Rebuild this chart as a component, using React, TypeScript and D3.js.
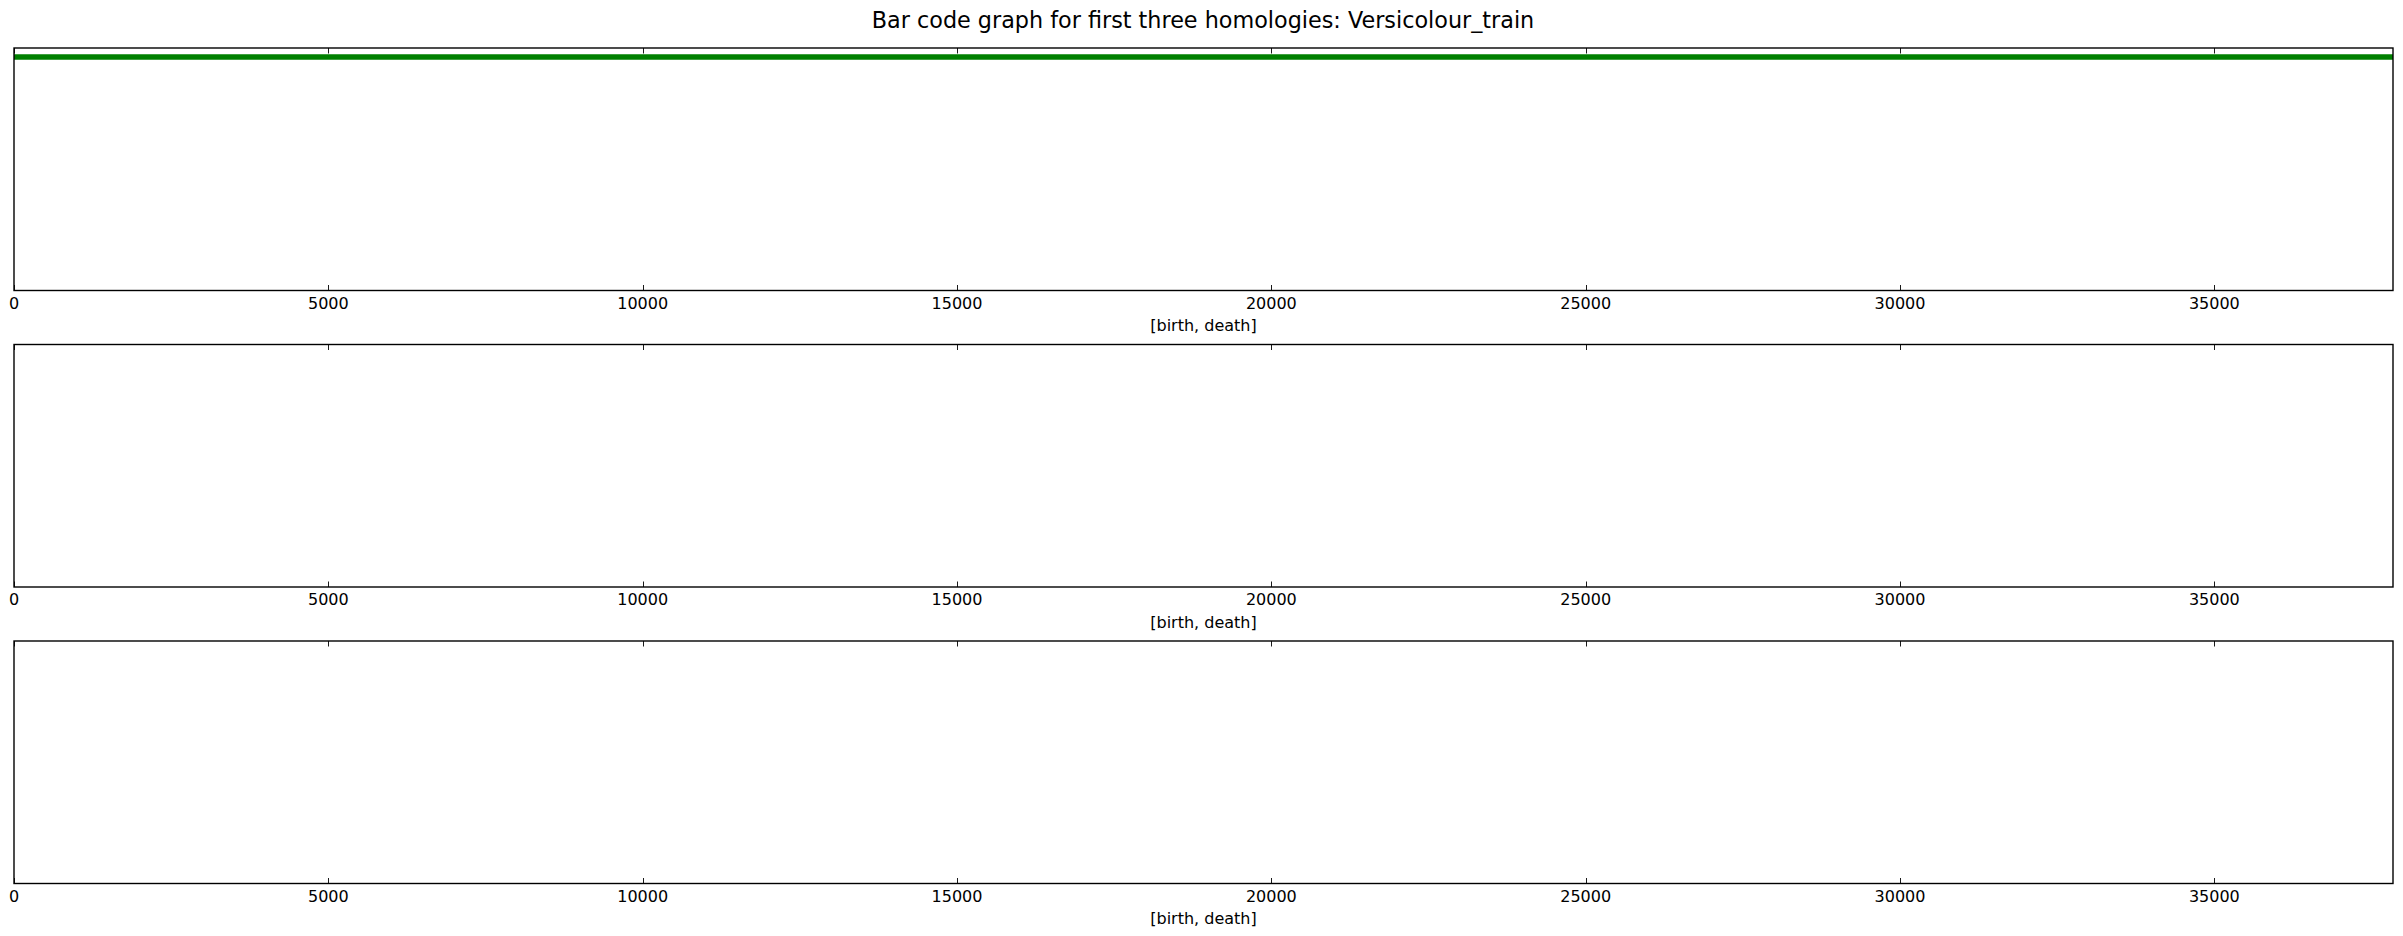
import { useEffect, useRef } from 'react';
import * as d3 from 'd3';

const title = 'Bar code graph for first three homologies: Versicolour_train';
const xLabel = '[birth, death]';
const xMax = 37842;

// persistence intervals per homology dimension
const h0Births = [0];
const h0Deaths = [37842];
const h1Births: number[] = [];
const h1Deaths: number[] = [];
const h2Births: number[] = [];
const h2Deaths: number[] = [];

const panels = [
  { births: h0Births, deaths: h0Deaths },
  { births: h1Births, deaths: h1Deaths },
  { births: h2Births, deaths: h2Deaths },
];

const W = 2403;
const H = 936;

export default function App() {
  const svgRef = useRef<SVGSVGElement>(null);

  useEffect(() => {
    document.body.style.margin = '0';
    if (!svgRef.current) return;
    const svg = d3.select(svgRef.current);
    svg.selectAll('*').remove();
    svg.attr('width', W).attr('height', H);
    svg.append('rect').attr('width', W).attr('height', H).attr('fill', '#fff');

    const font = 'DejaVu Sans, sans-serif';
    svg.append('text').attr('x', 1203).attr('y', 27.5)
      .attr('text-anchor', 'middle').attr('font-family', font).attr('font-size', 22.3)
      .attr('fill', '#000').text(title);

    const left = 14, right = 2393;
    const tops = [48, 344.5, 641];
    const ph = 242.5;

    const x = d3.scaleLinear().domain([0, xMax]).range([left, right]);
    const ticks = x.ticks(8);

    panels.forEach((p, pi) => {
      const top = tops[pi];
      const bottom = top + ph;
      const g = svg.append('g');
      const y = d3.scaleLinear().domain([-0.5, 13]).range([top, bottom]);

      p.births.forEach((b, i) => {
        g.append('line')
          .attr('x1', x(b)).attr('x2', x(Math.min(p.deaths[i], xMax)))
          .attr('y1', y(i)).attr('y2', y(i))
          .attr('stroke', '#008000').attr('stroke-width', 5.3);
      });

      ticks.forEach(t => {
        const tx = Math.round(x(t)) + 0.5;
        g.append('line').attr('x1', tx).attr('x2', tx).attr('y1', bottom).attr('y2', bottom - 5.5)
          .attr('stroke', '#000').attr('stroke-width', 0.9);
        g.append('line').attr('x1', tx).attr('x2', tx).attr('y1', top).attr('y2', top + 5.5)
          .attr('stroke', '#000').attr('stroke-width', 0.9);
        g.append('text').attr('x', x(t)).attr('y', bottom + 18.3)
          .attr('text-anchor', 'middle').attr('font-family', font).attr('font-size', 16)
          .attr('fill', '#000').text(String(t));
      });

      g.append('rect').attr('x', left).attr('y', top)
        .attr('width', right - left).attr('height', ph)
        .attr('fill', 'none').attr('stroke', '#000').attr('stroke-width', 1.4);

      g.append('text').attr('x', (left + right) / 2).attr('y', bottom + 40.5)
        .attr('text-anchor', 'middle').attr('font-family', font).attr('font-size', 16)
        .attr('fill', '#000').text(xLabel);
    });
  }, []);

  return <svg ref={svgRef} style={{ display: 'block' }} />;
}
